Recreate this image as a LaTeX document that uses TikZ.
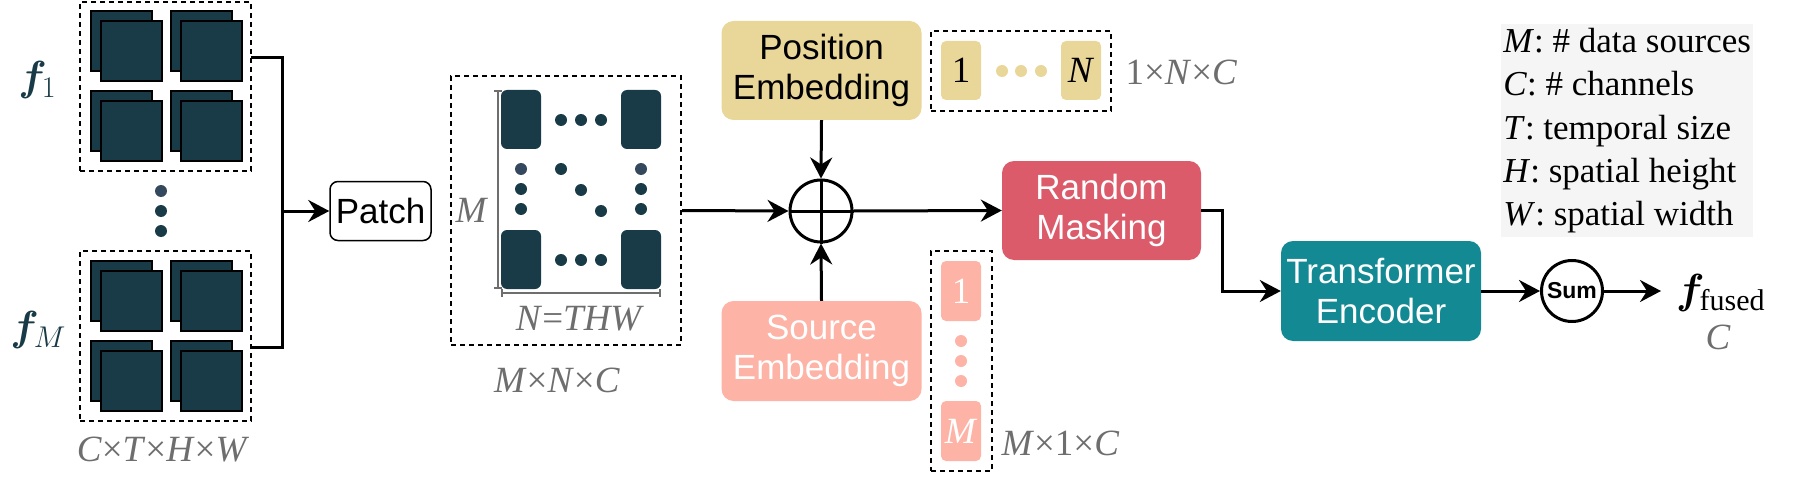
\RequirePackage{fix-cm}
\documentclass[tikz,border=0pt]{standalone}
\usepackage{bm}
\usepackage{fontspec}
\setmainfont{Liberation Serif}
\setsansfont{Liberation Sans}
\usetikzlibrary{arrows.meta}

\definecolor{featdark}{HTML}{183B47}
\definecolor{dotslate}{HTML}{34495E}
\definecolor{posyellow}{HTML}{E9D699}
\definecolor{srcpink}{HTML}{FDB3A6}
\definecolor{maskred}{HTML}{DC5B6B}
\definecolor{encteal}{HTML}{138A93}
\definecolor{dimgray}{HTML}{6E6E6E}
\definecolor{legendbg}{HTML}{F5F5F5}

\tikzset{
  block/.style={rectangle, rounded corners=12pt, minimum width=200pt, minimum height=100pt,
    inner sep=0pt, align=center, font=\sffamily\fontsize{35}{40}\selectfont},
  dashedbox/.style={draw=black, line width=2pt, dash pattern=on 5pt off 4pt, inner sep=0pt},
  featsq/.style={draw=black, line width=1.8pt, fill=featdark},
  conn/.style={line width=3pt},
  flow/.style={conn, -{Stealth[length=21pt, width=22pt, inset=7pt]}},
  dimlabel/.style={text=dimgray, font=\fontsize{37}{40}\selectfont},
  cell/.style={rectangle, rounded corners=5pt, minimum width=40pt, minimum height=59pt,
    inner sep=0pt, font=\fontsize{37}{40}\selectfont},
  legendbox/.style={fill=legendbg, minimum width=252pt, minimum height=213pt, inner xsep=2pt,
    align=left, font=\fontsize{35}{43.4}\selectfont}
}

\begin{document}
\begin{tikzpicture}[x=1pt, y=-1pt]

\useasboundingbox (0,0) rectangle (1804,492);

\node[dashedbox, minimum width=171pt, minimum height=169pt] (feat1) at (165.5,86.5) {};
\node[dashedbox, minimum width=171pt, minimum height=170pt] (featM) at (165.5,336) {};

\draw[featsq] (91,11) rectangle (152,71);
\draw[featsq] (101,21) rectangle (162,81);
\draw[featsq] (171,11) rectangle (232,71);
\draw[featsq] (181,21) rectangle (242,81);
\draw[featsq] (91,91) rectangle (152,151);
\draw[featsq] (101,101) rectangle (162,161);
\draw[featsq] (171,91) rectangle (232,151);
\draw[featsq] (181,101) rectangle (242,161);
\draw[featsq] (91,261) rectangle (152,321);
\draw[featsq] (101,271) rectangle (162,331);
\draw[featsq] (171,261) rectangle (232,321);
\draw[featsq] (181,271) rectangle (242,331);
\draw[featsq] (91,341) rectangle (152,401);
\draw[featsq] (101,351) rectangle (162,411);
\draw[featsq] (171,341) rectangle (232,401);
\draw[featsq] (181,351) rectangle (242,411);

\fill[dotslate] (161,191) circle (6pt);
\fill[featdark] (161,211) circle (6pt);
\fill[featdark] (161,231) circle (6pt);

\node[text=featdark, font=\fontsize{42}{42}\selectfont] (f1) at (37,80)
  {$\bm{f}$\kern-5pt\raisebox{-7pt}{\fontsize{30}{30}\selectfont$1$}};
\node[text=featdark, font=\fontsize{42}{42}\selectfont] (fM) at (38,330)
  {$\bm{f}$\kern-5pt\raisebox{-7pt}{\fontsize{30}{30}\selectfont$M$}};
\node[dimlabel] (featdim) at (163,450) {\textit{C}×\textit{T}×\textit{H}×\textit{W}};

\node[draw=black, line width=1.5pt, rounded corners=8pt, minimum width=101pt, minimum height=59pt,
  inner sep=0pt, font=\sffamily\fontsize{35}{40}\selectfont] (patch) at (380.5,211) {Patch};

\coordinate (tap1) at (251,58);
\coordinate (tapM) at (251,347);
\coordinate (bus) at (282,211);
\draw[conn] (tap1) -| (bus) |- (tapM);
\draw[flow] (bus) -- (patch.west);

\node[dashedbox, minimum width=230pt, minimum height=269pt] (mat) at (566,210.5) {};
\fill[featdark, rounded corners=6pt] (501,90) rectangle (541,149);
\fill[featdark, rounded corners=6pt] (621,90) rectangle (661,149);
\fill[featdark, rounded corners=6pt] (501,230) rectangle (541,289);
\fill[featdark, rounded corners=6pt] (621,230) rectangle (661,289);
\fill[featdark] (561,120) circle (6pt);
\fill[featdark] (581,120) circle (6pt);
\fill[featdark] (601,120) circle (6pt);
\fill[featdark] (561,260) circle (6pt);
\fill[featdark] (581,260) circle (6pt);
\fill[featdark] (601,260) circle (6pt);
\fill[dotslate] (521,169) circle (6pt);
\fill[featdark] (521,189) circle (6pt);
\fill[featdark] (521,209) circle (6pt);
\fill[dotslate] (641,169) circle (6pt);
\fill[featdark] (641,189) circle (6pt);
\fill[featdark] (641,209) circle (6pt);
\fill[featdark] (561,169) circle (6pt);
\fill[featdark] (581,190) circle (6pt);
\fill[featdark] (601,211) circle (6pt);
\draw[dimgray, line width=2pt, {Bar[width=8pt]}-{Bar[width=8pt]}] (498,90) -- (498,289);
\draw[dimgray, line width=2pt, {Bar[width=8pt]}-{Bar[width=8pt]}] (501,293) -- (661,293);
\node[dimlabel] (mlab) at (472,210) {\textit{M}};
\node[dimlabel] (nlab) at (580,319) {\textit{N}=\textit{THW}};
\node[dimlabel] (matdim) at (557,380) {\textit{M}×\textit{N}×\textit{C}};

\node[draw=black, circle, line width=3pt, minimum size=62pt, inner sep=0pt] (oplus) at (821,211) {};
\draw[conn] (oplus.north) -- (oplus.south);
\draw[conn] (oplus.west) -- (oplus.east);

\node[block, fill=posyellow, minimum height=99pt] (pos) at (821.5,70.5) {Position\\Embedding};
\node[dashedbox, minimum width=180pt, minimum height=80pt] (posvec) at (1021,71) {};
\node[cell, fill=posyellow] (pid1) at (961,70.5) {1};
\node[cell, fill=posyellow] (pidN) at (1081,70.5) {\textit{N}};
\fill[posyellow] (1002,71) circle (6pt);
\fill[posyellow] (1021,71) circle (6pt);
\fill[posyellow] (1041,71) circle (6pt);
\node[dimlabel, anchor=west] (posdim) at (1122,72) {1×\textit{N}×\textit{C}};

\node[block, fill=srcpink, text=white] (src) at (821.5,351) {Source\\Embedding};
\node[dashedbox, minimum width=61pt, minimum height=220pt] (srcvec) at (961.5,361) {};
\node[cell, fill=srcpink, text=white, minimum height=60pt] (sid1) at (961,291) {1};
\node[cell, fill=srcpink, text=white, minimum height=60pt] (sidM) at (961,431) {\textit{M}};
\fill[srcpink] (961,341) circle (6pt);
\fill[srcpink] (961,361) circle (6pt);
\fill[srcpink] (961,381) circle (6pt);
\node[dimlabel, anchor=west] (srcdim) at (998,443) {\textit{M}×1×\textit{C}};

\node[block, fill=maskred, text=white, minimum width=199pt, minimum height=99pt] (mask) at (1101.5,210.5) {Random\\Masking};
\node[block, fill=encteal, text=white] (enc) at (1381,291) {Transformer\\Encoder};
\node[draw=black, circle, line width=3pt, minimum size=61pt, inner sep=0pt,
  font=\sffamily\bfseries\fontsize{23}{23}\selectfont] (sum) at (1572,291) {Sum};

\draw[flow] (mat.east) -- (oplus.west);
\draw[flow] (pos.south) -- (oplus.north);
\draw[flow] (src.north) -- (oplus.south);
\draw[flow] (oplus.east) -- (mask.west);
\draw[flow] (mask.east) -- ++(21,0) |- (enc.west);
\draw[flow] (enc.east) -- (sum.west);

\node[anchor=west, inner sep=0pt, font=\fontsize{42}{42}\selectfont] (fused) at (1676,293)
  {$\bm{f}$\kern-5pt\raisebox{-7pt}{\fontsize{30}{30}\selectfont fused}};
\coordinate (fusedin) at (1661,291);
\draw[flow] (sum.east) -- (fusedin);
\node[dimlabel] (fuseddim) at (1718,337) {\textit{C}};

\node[legendbox, anchor=north west] (legend) at (1501,24)
  {\textit{M}: \# data sources\\
   \textit{C}: \# channels\\
   \textit{T}: temporal size\\
   \textit{H}: spatial height\\
   \textit{W}: spatial width};

\end{tikzpicture}
\end{document}
